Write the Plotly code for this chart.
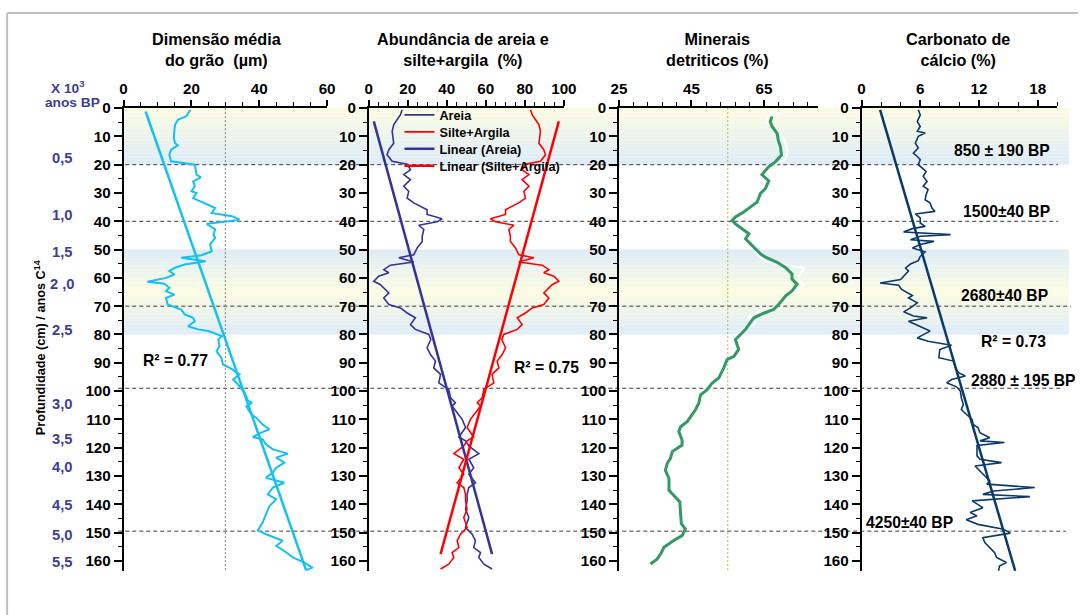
import plotly.graph_objects as go

# ---------------------------------------------------------------------------
# Dados do testemunho (profundidade em cm)
# ---------------------------------------------------------------------------
# Dimensão média do grão (µm)
grao_prof = [0.6, 1.8, 2.9, 4.1, 5.9, 7.6, 10.6, 12.4, 13.2, 14.7, 16.5, 18.8, 20, 21.8, 23.5,
             24.5, 25.9, 27.6, 29.4, 30, 31.8, 32.9, 34.1, 35.3, 37.1, 38.2, 39.4, 40, 40.9,
             42.9, 44.7, 45.9, 48.2, 50.6, 52, 52.9, 54.1, 55.3, 56.5, 57.6, 58.8, 60, 61.4,
             62.1, 63.5, 64.7, 65.9, 67.1, 69.4, 71.2, 72.9, 74.1, 75.3, 77.1, 78.2, 78.8,
             80.6, 81.8, 84.1, 85.9, 88.2, 90.6, 91.8, 94.1, 95.9, 97.6, 100.6, 103.5, 104.1,
             105.3, 108.2, 109.4, 111.8, 113.5, 114.7, 116.2, 117.1, 118.8, 120.6, 122.1,
             123.5, 125.3, 127.1, 128.8, 130.6, 132.4, 134.1, 136.5, 138.2, 140.6, 143.5,
             146.5, 149.2, 150.6, 152.9, 154.7, 156.5, 158.8, 160.6, 162.4, 163.3]
grao_valor = [19.7, 19, 18.5, 16, 15.2, 15, 14.8, 15.2, 16, 14, 13.5, 14, 21, 21.3, 21.5, 22.8,
              20.5, 21, 20, 21.5, 20.5, 22.5, 24.5, 27, 26, 32, 34.2, 31, 24.5, 27, 26.5, 27,
              25.5, 26, 23, 17, 24.2, 18, 15, 13.5, 15, 12.5, 7, 12, 13.5, 12.5, 15, 12.5, 13,
              17, 18, 20.5, 21, 19, 22, 25, 29, 27.9, 28.3, 27.4, 28.8, 29.3, 31.3, 34.2, 32.3,
              33.7, 35.7, 36.7, 37.9, 36.2, 37.6, 39.1, 41, 43, 40.6, 38.1, 41, 42, 44, 48.4,
              45, 47.4, 45, 44, 42, 47.4, 44, 42.5, 45, 43, 42, 41, 39.6, 42, 46.9, 45, 47.4,
              49.9, 53.3, 55.7, 53.8]
grao_tend_prof = [1.2, 163.3]
grao_tend_valor = [6.5, 53.8]

# Abundância de areia e silte+argila (%)
textura_prof = [0.6, 2.4, 4.1, 5.9, 8.2, 10.6, 12.4, 14.7, 16.5, 18.8, 19.8, 21.8, 23.5, 25.3,
                27.6, 29.4, 31.8, 33.5, 35.9, 37.6, 39.1, 40.2, 41.4, 42.9, 45.3, 47.1, 49.4,
                51.8, 52.9, 54.4, 55.5, 57.1, 58.2, 59.4, 61.2, 62.4, 64.1, 65.3, 67.1, 69.4,
                70.6, 72.4, 74.1, 76.5, 78.2, 80, 81.8, 84.7, 87.1, 89.4, 91.8, 94.1, 97.1,
                99.4, 102.4, 104.1, 105.3, 107.6, 110, 112.9, 116.2, 117.6, 119.4, 122.1,
                124.1, 127.1, 129.4, 132.4, 134.1, 136.5, 138.8, 141.8, 144.7, 148.2, 150.6,
                152.9, 155.3, 157.1, 158.8, 161.2, 162.9]
areia = [17.1, 16.2, 14.5, 12.8, 12, 12.5, 12.8, 10.3, 9.4, 12, 19.7, 21.4, 17.9, 21.4, 17.9,
         20.5, 19.7, 23.1, 29.9, 29.9, 37.6, 35, 25.6, 28.2, 27.4, 27.4, 24.8, 23.1, 15.4, 23.1,
         11.1, 7.7, 10.3, 5.1, 2.6, 6, 8.5, 10.3, 7.7, 10.3, 16.2, 19.7, 23.9, 21.4, 23.9,
         30.8, 31.8, 29.9, 31.6, 34.2, 33.3, 36.8, 35.9, 41, 41.9, 44.4, 42.7, 45.3, 47.9,
         49.6, 46.2, 49.6, 51.3, 56.4, 51.3, 53.8, 51.3, 54.7, 51.3, 50.4, 50.4, 49.6, 51.3,
         49.6, 53, 54.7, 53.8, 57.3, 56.4, 59, 63.2]
silte_argila = [82.9, 83.8, 85.5, 87.2, 88, 87.5, 87.2, 89.7, 90.6, 88, 80.3, 78.6, 82.1, 78.6,
                82.1, 79.5, 80.3, 76.9, 70.1, 70.1, 62.4, 65, 74.4, 71.8, 72.6, 72.6, 75.2,
                76.9, 84.6, 76.9, 88.9, 92.3, 89.7, 94.9, 97.4, 94, 91.5, 89.7, 92.3, 89.7,
                83.8, 80.3, 76.1, 78.6, 76.1, 69.2, 68.2, 70.1, 68.4, 65.8, 66.7, 63.2, 64.1,
                59, 58.1, 55.6, 57.3, 54.7, 52.1, 50.4, 53.8, 50.4, 48.7, 43.6, 48.7, 46.2,
                48.7, 45.3, 48.7, 49.6, 49.6, 50.4, 48.7, 50.4, 47, 45.3, 46.2, 42.7, 43.6,
                41, 36.8]
textura_tend_prof = [4.7, 157.6]
areia_tend = [2.6, 63.2]
silte_tend = [97.4, 36.8]

# Minerais detríticos (%)
minerais_prof = [3, 4.7, 6.5, 8.9, 11.3, 13.6, 16.6, 19, 20.7, 22.5, 23.5, 25.7, 28.4, 30.2,
                 33.2, 35, 36.7, 38.5, 39.7, 40.9, 42.7, 44.4, 46.2, 49.2, 51.5, 52.7, 54.5,
                 56.3, 58.6, 60.4, 62.2, 64.6, 66.4, 68.7, 71.1, 72.5, 74.1, 75.8, 78.2, 80,
                 81.8, 85.3, 87.7, 88.9, 91.8, 95.4, 97.2, 99.5, 101.3, 104.3, 106.6, 110.8,
                 112.6, 114.3, 117.3, 119.1, 121.4, 123.8, 125.6, 128, 130.9, 135.1, 136.8,
                 139.2, 143.4, 146.9, 148.7, 151.1, 152.8, 155.2, 157.6, 159.4, 161.1]
minerais = [67.2, 66.7, 67.2, 68.6, 68.9, 69.5, 69.8, 68.1, 66.3, 64.9, 64.4, 66.3, 65.4, 64,
            63.1, 61.2, 59.4, 57.1, 56.2, 57.1, 58.9, 60.8, 59.9, 62.2, 64, 65.4, 68.6, 70.9,
            72.7, 72.7, 74.1, 72.7, 70.9, 69.5, 67.7, 64.9, 62.2, 61.2, 59.9, 58.5, 57.1, 58,
            56.7, 54.8, 53.9, 52.5, 50.7, 49.3, 47.5, 47, 46.1, 43.8, 42, 41.5, 42.4, 42.4,
            39.7, 39.2, 38.3, 37.8, 38.8, 38.8, 40.1, 41.8, 42, 42.2, 43.3, 42.4, 40.1, 37.4,
            36.5, 35.5, 33.7]
# contorno claro (série de fundo) visível sobre as faixas sombreadas
minerais_fundo_prof = [1, 3, 5, 8, 11, 15, 18, 20, None,
                       50, 52, 54.5, 56.5, 58.5, 60.5, 62.5, 64.5, 66.5, 68, 70, 72, 74, 76,
                       78, 80]
minerais_fundo = [70.5, 66, 65.5, 68.5, 70.5, 71.5, 71, 68, None,
                  62.5, 63.5, 66, 76, 75, 74.5, 76, 74, 71, 70, 68.5, 63.5, 60.5, 63, 59.5,
                  58]

# Carbonato de cálcio (%)
carbonato_prof = [0.6, 2.4, 4.7, 6.5, 8.2, 8.8, 10, 12.4, 14.1, 15.9, 17.1, 18.2, 20, 21.2,
                  22.4, 24.1, 25.9, 27.6, 28.8, 30.6, 32.4, 33.5, 35.3, 36.5, 37.4, 38.8,
                  40.6, 41.8, 42.6, 43.8, 44.2, 44.7, 45.3, 46.5, 47.1, 48.2, 49.4, 50.8,
                  52.4, 53.9, 55.1, 56.5, 57.6, 58.8, 60.6, 61.8, 62.6, 64.1, 65.3, 66.2,
                  67.1, 68.8, 70.6, 72, 73.5, 74.1, 75.3, 77.1, 78.8, 81.2, 82.4, 83.8, 85.3,
                  88.2, 89.4, 91.8, 93.5, 94.7, 95.9, 97.1, 98.5, 100, 102.4, 104.7, 106.5,
                  108.2, 110, 111.8, 112.9, 114.7, 116.5, 117.6, 118.2, 119.2, 121.2, 122.9,
                  124.1, 125.3, 126.5, 128.2, 130, 131.8, 132.9, 134.1, 135.3, 136.5, 137.3,
                  138.8, 141.2, 142.9, 144.1, 145.5, 147.1, 148.8, 150.2, 151.8, 153.5,
                  155.3, 157.1, 158.8, 160.6, 161.8, 163.5]
carbonato = [5.8, 6, 5.7, 6, 5.7, 6.5, 5.8, 5.5, 5.8, 5.3, 5.7, 6, 5.8, 6.2, 6.6, 6.3, 6.7,
             6.3, 6.8, 6.6, 6.5, 7, 7.2, 7.5, 5.5, 6, 6, 6.5, 5.2, 4.3, 6, 9.1, 6, 5, 7.4, 6,
             5.2, 6.5, 6, 5.8, 5, 4.5, 4.8, 4.5, 4, 1.9, 3.8, 4.1, 4.8, 5.2, 4.8, 5.7, 5, 4.3,
             5.3, 6.7, 4.8, 6, 7, 5.7, 6.8, 9.2, 8, 7.9, 9.4, 9.6, 9.9, 10.6, 9.2, 8.7, 9.7,
             10.1, 10.2, 10.4, 10.2, 10.7, 11.3, 11.4, 11.9, 12.1, 13.1, 12.1, 14.6, 11.8,
             11.8, 11.8, 12.1, 14.3, 11.6, 12.1, 12.6, 13.1, 12.8, 17.7, 13.5, 12.4, 17.2,
             11.3, 12.4, 11.1, 11.8, 10.7, 11.9, 14.5, 15.2, 12.4, 12.6, 13.1, 13.6, 13.8,
             14.8, 14.1, 14]
carbonato_tend_prof = [0.6, 163.5]
carbonato_tend = [1.9, 15.7]

# Idades (x 10^3 anos BP) e datações C14
idade_rotulos = ["0,5", "1,0", "1,5", "2 ,0", "2,5", "3,0", "3,5", "4,0", "4,5", "5,0", "5,5"]
idade_prof = [17.8, 37.9, 51, 62.3, 78.5, 104.5, 116.8, 127, 140.3, 150.9, 160.4]
datacoes = ["850 ± 190 BP", "1500±40 BP", "2680±40 BP", "2880 ± 195 BP", "4250±40 BP"]
niveis_datados = [20, 40, 70, 99, 149.5]
r2_textos = ["R² = 0.77", "R² = 0.75", "R² = 0.73"]

# ---------------------------------------------------------------------------
# Geometria: posições em pixels da página final, convertidas para "paper"
# (a página acrescenta 8 px de margem e é reduzida ao ser exibida).
# ---------------------------------------------------------------------------
OFF = 8
W, H = 1091, 615
SX, SY = 0.980, 0.9855
FONT = "Liberation Sans, Arial, sans-serif"
PROF_MAX = 163.6


def px(x):
    return (x / SX - OFF) / W


def py(y):
    return 1 - (y / SY - OFF) / H


def fs(size):
    return round(size / SY, 1)


ydom = [py(570), py(107)]

fig = go.Figure()

# curvas
fig.add_trace(go.Scatter(x=grao_valor, y=grao_prof, mode="lines", xaxis="x", yaxis="y",
                         line=dict(color="#14C1F1", width=2), showlegend=False))
fig.add_trace(go.Scatter(x=grao_tend_valor, y=grao_tend_prof, mode="lines", xaxis="x", yaxis="y",
                         line=dict(color="#14C1F1", width=2.5), showlegend=False))

fig.add_trace(go.Scatter(x=areia, y=textura_prof, mode="lines", xaxis="x2", yaxis="y2",
                         name="Areia", legend="legend",
                         line=dict(color="#333399", width=1.6)))
fig.add_trace(go.Scatter(x=silte_argila, y=textura_prof, mode="lines", xaxis="x2", yaxis="y2",
                         name="Silte+Argila", legend="legend2",
                         line=dict(color="#FF0000", width=1.6)))
fig.add_trace(go.Scatter(x=areia_tend, y=textura_tend_prof, mode="lines", xaxis="x2", yaxis="y2",
                         name="Linear (Areia)", legend="legend3",
                         line=dict(color="#333399", width=2.5)))
fig.add_trace(go.Scatter(x=silte_tend, y=textura_tend_prof, mode="lines", xaxis="x2", yaxis="y2",
                         name="Linear (Silte+Argila)", legend="legend4",
                         line=dict(color="#FF0000", width=2.5)))

fig.add_trace(go.Scatter(x=minerais_fundo, y=minerais_fundo_prof, mode="lines", xaxis="x3",
                         yaxis="y3", line=dict(color="white", width=2), showlegend=False,
                         connectgaps=False))
fig.add_trace(go.Scatter(x=minerais, y=minerais_prof, mode="lines", xaxis="x3", yaxis="y3",
                         line=dict(color="#339966", width=3), showlegend=False))

fig.add_trace(go.Scatter(x=carbonato, y=carbonato_prof, mode="lines", xaxis="x4", yaxis="y4",
                         line=dict(color="#0A3A6C", width=1.6), showlegend=False))
fig.add_trace(go.Scatter(x=carbonato_tend, y=carbonato_tend_prof, mode="lines", xaxis="x4",
                         yaxis="y4", line=dict(color="#0A3A6C", width=2.5), showlegend=False))

# eixos
paineis = [
    (123.3, 326.7, [0, 60], 0, 20, 5),
    (368.3, 563.3, [0, 100], 0, 20, 5),
    (618.3, 817.7, [25, 80], 25, 20, 4),
    (860.7, 1056.3, [0, 20], 0, 6, 2),
]
tickfont = dict(family=FONT, size=fs(15), color="black", weight="bold")
for i, (x0, x1, rng, t0, dt, mdt) in enumerate(paineis, start=1):
    sfx = "" if i == 1 else str(i)
    fig.layout["xaxis" + sfx] = dict(
        domain=[px(x0), px(x1)], range=rng, side="top", anchor="y" + sfx,
        showline=True, linecolor="black", linewidth=1.5, showgrid=False, zeroline=False,
        ticks="outside", ticklen=6, tickwidth=1.5, tickcolor="black", tick0=t0, dtick=dt,
        minor=dict(ticks="outside", ticklen=4, tickwidth=1, tickcolor="black", tick0=t0,
                   dtick=mdt),
        tickfont=tickfont, fixedrange=True)
    fig.layout["yaxis" + sfx] = dict(
        domain=ydom, range=[PROF_MAX, 0], anchor="x" + sfx,
        showline=True, linecolor="black", linewidth=1.5, showgrid=False, zeroline=False,
        ticks="outside", ticklen=8, tickwidth=1.5, tickcolor="black", tick0=0, dtick=10,
        minor=dict(ticks="outside", ticklen=4, tickwidth=1, tickcolor="black", dtick=5),
        tickfont=tickfont, fixedrange=True)

# faixas sombreadas (gradiente amarelo -> azul)
amarelo = (252, 252, 226)
azul = (221, 235, 248)
faixas = [([0, 20], [amarelo, azul]), ([50, 65, 80], [azul, amarelo, azul])]
shapes = []
passo = 0.5
for limites, cores in faixas:
    for k in range(len(limites) - 1):
        a, b = limites[k], limites[k + 1]
        ca, cb = cores[k], cores[k + 1]
        n = int(round((b - a) / passo))
        for j in range(n):
            t = (j + 0.5) / n
            c = tuple(int(round(ca[m] + (cb[m] - ca[m]) * t)) for m in range(3))
            shapes.append(dict(type="rect", xref="paper", yref="y", layer="below",
                               x0=px(123.5), x1=px(1068), y0=a + j * passo,
                               y1=min(a + (j + 1) * passo + 0.08, b),
                               fillcolor="rgb(%d,%d,%d)" % c, line=dict(width=0)))

# níveis datados (linhas tracejadas)
fim_linhas = [1057, 1057, 1070, 1060, 1065]
for nivel, fim in zip(niveis_datados, fim_linhas):
    shapes.append(dict(type="line", xref="paper", yref="y", layer="below",
                       x0=px(118), x1=px(fim), y0=nivel, y1=nivel,
                       line=dict(color="#3A3A3A", width=1, dash="4px,3px")))

# linhas verticais de referência
shapes.append(dict(type="line", xref="x", yref="y", layer="below", x0=30, x1=30, y0=0,
                   y1=PROF_MAX, line=dict(color="#7F7F7F", width=1, dash="2px,2px")))
shapes.append(dict(type="line", xref="x3", yref="y3", layer="below", x0=55, x1=55, y0=0,
                   y1=PROF_MAX, line=dict(color="#A2C81E", width=1, dash="2px,2px")))

# moldura
shapes.append(dict(type="line", xref="paper", yref="paper", x0=px(7), x1=1, y0=py(12),
                   y1=py(12), line=dict(color="#BFBFBF", width=2)))
shapes.append(dict(type="line", xref="paper", yref="paper", x0=px(7), x1=px(7), y0=py(12),
                   y1=0, line=dict(color="#BFBFBF", width=2)))

# textos
ann = []


def texto(t, x, y, size=15, color="black", bold=True, **kw):
    ann.append(dict(text=("<b>%s</b>" % t) if bold else t, x=px(x), y=py(y), xref="paper",
                    yref="paper", showarrow=False, xanchor=kw.pop("xanchor", "center"),
                    yanchor=kw.pop("yanchor", "middle"),
                    font=dict(family=FONT, size=fs(size), color=color), **kw))


titulos = ["Dimensão média<br>do grão  (µm)", "Abundância de areia e<br>silte+argila  (%)",
           "Minerais<br>detriticos (%)", "Carbonato de<br>cálcio (%)"]
for t, xc in zip(titulos, [217, 462, 717, 957]):
    texto(t, xc, 48, size=16)

azul_idade = "#3D3D99"
texto("X 10<sup>3</sup>", 68, 86, size=13.5, color=azul_idade)
texto("anos BP", 72, 101, size=13.5, color=azul_idade)
for rot, prof in zip(idade_rotulos, idade_prof):
    ann.append(dict(text="<b>%s</b>" % rot, x=px(62), y=prof, xref="paper", yref="y",
                    showarrow=False, xanchor="center", yanchor="middle",
                    font=dict(family=FONT, size=fs(14.5), color=azul_idade)))

texto("Profundidade (cm) / anos C<sup>14</sup>", 40, 347, size=12.5, textangle=-90)

# datações no painel de carbonato
pos_datacoes = [(1001, 149), (1006, 210), (1004, 294), (1023, 379), (909, 521)]
for t, (xc, yc) in zip(datacoes, pos_datacoes):
    texto(t, xc, yc, size=15.5)

for t, (xc, yc) in zip(r2_textos, [(175, 359), (546, 366), (1013, 340)]):
    texto(t, xc, yc, size=15.5)

# uma legenda por série, para o espaçamento compacto entre as linhas
legenda_base = dict(x=px(399), xanchor="left", yanchor="top", bgcolor="rgba(0,0,0,0)",
                    borderwidth=0, itemwidth=30,
                    font=dict(family=FONT, size=fs(12.5), color="black", weight="bold"))
leg_centros = [115, 132, 149, 166]
legendas = {}
for k, yc in enumerate(leg_centros):
    nome = "legend" if k == 0 else "legend%d" % (k + 1)
    legendas[nome] = dict(legenda_base, y=py(yc - 16))

fig.update_layout(
    width=W, height=H, margin=dict(l=0, r=0, t=0, b=0),
    paper_bgcolor="white", plot_bgcolor="rgba(0,0,0,0)",
    shapes=shapes, annotations=ann,
    showlegend=True,
    font=dict(family=FONT),
    **legendas,
)

fig.write_html("out.html")
